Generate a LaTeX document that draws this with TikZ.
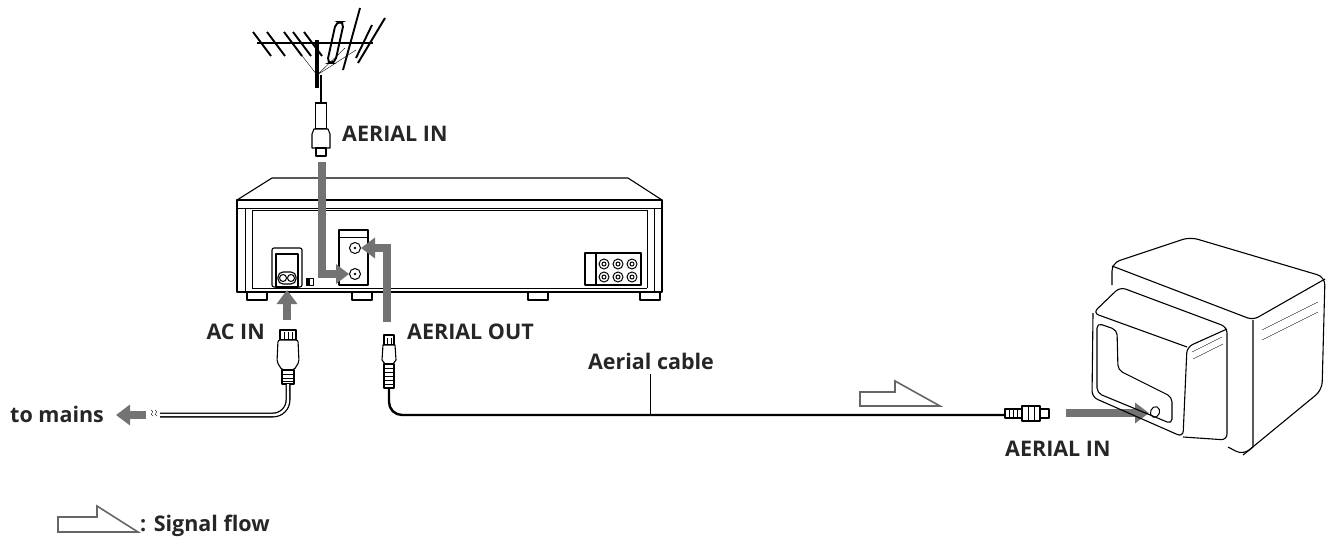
\documentclass[tikz,border=0pt]{standalone}
\usepackage{fontspec}
\setmainfont{Open Sans}
\usetikzlibrary{arrows.meta,shapes.geometric}
\begin{document}
\begin{tikzpicture}[x=1pt,y=-1pt,
  lbl/.style={font=\bfseries\fontsize{21.5}{23}\selectfont,text=black!85,inner sep=0pt},
  ln/.style={draw=black,line width=1.1pt,line join=round},
  el/.style={draw=black,line width=1.9pt},
  garrow/.style={draw=black!55,line width=7.5pt,-{Triangle[length=14pt,width=20pt]}},
  hollow/.style={draw=black!60,line width=1.6pt,fill=white}]
\useasboundingbox (0,0) rectangle (1337,543);
% ---------- antenna
\draw[el,line width=2.2pt] (257,43) -- (373,43);
\draw[ln,line width=3.5pt] (317,40) -- (317,88);
\foreach \x in {253,267,284,293,304}{\draw[el] (\x,32) -- (\x+18,56);}
\draw[el] (372,25) -- (356,58);
\draw[el] (360,8) -- (343,70);
\draw[el] (385,18) -- (358,63);
\draw[el,rounded corners=5pt] (327,63) -- (336,22) -- (344,22) -- (335,63) -- cycle;
\draw[ln,thin] (317,75) -- (296,48) (317,75) -- (345,48) (317,75) -- (356,50);
\draw[ln,line width=1.6pt] (321,75) -- (321,103);
% antenna plug
\node[draw,line width=1.1pt,minimum width=11pt,minimum height=26pt,inner sep=0] (ap1) at (321,116) {};
\draw[ln,fill=white] (314,129) -- (312,134) -- (312,148) -- (330,148) -- (330,134) -- (328,129) -- cycle;
\draw[ln] (316,148) rectangle (326,156);
\node[lbl,anchor=west] (ailbl) at (342,134) {AERIAL IN};
% ---------- VCR
\draw[ln] (237,200) -- (272,178) -- (628,178) -- (662,200);
\draw[ln] (237,200) rectangle (662,292);
\draw[ln,thin] (237,208) -- (662,208);
\draw[ln,thin] (245,208) -- (245,292) (252,210) -- (252,288) (654,208) -- (654,292) (647,210) -- (647,288);
\draw[ln,thin] (252,210) -- (647,210) (252,288) -- (647,288);
\foreach \x in {247,352,528,640}{\draw[ln] (\x,292) rectangle (\x+20,300);}
% aerial jack box
\draw[ln] (339,230) rectangle (368,285);
\draw[ln,thin] (339,237) -- (368,237);
\node[draw,circle,line width=1pt,minimum size=11pt,inner sep=0] (jout) at (355,248) {};
\node[draw,circle,line width=1pt,minimum size=11pt,inner sep=0] (jin) at (355,274) {};
\fill (355,248) circle (1.3pt) (355,274) circle (1.3pt);
% AC socket
\draw[ln,rounded corners=2pt] (272,248) rectangle (302,287);
\draw[ln] (276,254) rectangle (298,287);
\draw[ln,rounded corners=5pt] (278,272) rectangle (296,284);
\draw[line width=1pt] (283,278) circle (3.5pt) (291,278) circle (3.5pt);
\draw[ln,thin] (306,278) rectangle (313,285);
\fill (306,278) rectangle (309.5,285);
% AV block
\draw[ln] (585,253) rectangle (641,285);
\draw[ln] (596,253) -- (596,285);
\foreach \x in {604,618,632}{\foreach \y in {264,277}{\draw[line width=1pt] (\x,\y) circle (5pt) (\x,\y) circle (2pt);}}
% grey arrows
\coordinate (a1) at (322,162);
\draw[garrow,-{Triangle[length=13pt,width=19pt]}] (a1) |- (jin.west);
\coordinate (a2) at (387,322);
\draw[garrow] (a2) |- (jout.east);
\coordinate (a3) at (287,320);
\draw[garrow] (a3) -- (287,290);
% ---------- AC plug and mains cable
\node[lbl,anchor=east] (aclbl) at (265,332) {AC IN};
\draw[ln] (280,330) rectangle (296,340);
\draw[ln,thin] (284,332) -- (284,340) (288,332) -- (288,340) (292,332) -- (292,340);
\draw[ln,fill=white,rounded corners=2pt] (278,340) -- (298,340) -- (299,362) -- (294,370) -- (282,370) -- (277,362) -- cycle;
\draw[ln] (282,370) rectangle (294,384);
\foreach \y in {374,378,381}{\draw[ln,thin] (282,\y) -- (294,\y);}
\draw[line width=5pt,draw=black] (288,384) -- (288,400) arc (0:90:15) -- (160,415);
\draw[line width=2.4pt,draw=white] (288,384) -- (288,400) arc (0:90:15) -- (160,415);
\draw[thin] (151,410) .. controls (156,412) and (148,414) .. (153,416);
\draw[thin] (155,410) .. controls (160,412) and (152,414) .. (157,416);
\coordinate (m1) at (146,415);
\draw[garrow] (m1) -- (116,415);
\node[lbl,anchor=west] (mains) at (10,414) {to mains};
% ---------- aerial cable
\node[lbl,anchor=west] (aolbl) at (407,332) {AERIAL OUT};
\draw[ln] (384,335) rectangle (394,345);
\draw[ln,thin] (387,338) -- (387,345) (391,338) -- (391,345);
\draw[ln,fill=white] (383,345) -- (395,345) -- (396,360) -- (393,364) -- (385,364) -- (382,360) -- cycle;
\draw[ln] (384,364) rectangle (394,388);
\foreach \y in {368,372,376,380,384}{\draw[ln,thin] (384,\y) -- (394,\y);}
\coordinate (c0) at (389,388);
\coordinate (c1) at (1005,415);
\draw[line width=2.4pt] (c0) -- (389,402) arc (180:90:13) -- (c1);
\node[lbl] (aclabel) at (651,361) {Aerial cable};
\draw[line width=1pt] (650,374) -- (650,415);
% signal flow arrow
\draw[hollow] (860,392) -- (895,392) -- (895,381) -- (940,406) -- (860,406) -- cycle;
% TV plug
\draw[ln,fill=white] (1005,409) rectangle (1022,418);
\foreach \x in {1009,1013,1017}{\draw[ln,thin] (\x,409) -- (\x,418);}
\draw[ln,fill=white] (1022,406) rectangle (1040,421);
\draw[ln,thin] (1028,406) -- (1028,421) (1034,406) -- (1034,421);
\draw[ln] (1040,409) rectangle (1049,418);
\coordinate (t1) at (1066,413);
\node[draw,ellipse,line width=1pt,minimum width=9pt,minimum height=11pt,inner sep=0,rotate=-20] (tvjack) at (1155,412) {};
\coordinate (t2) at (1149,413);
\draw[garrow] (t1) -- (t2);
\node[lbl,anchor=west] (tvlbl) at (1005,449) {AERIAL IN};
% ---------- TV
\draw[ln,rounded corners=8pt] (1112,285) -- (1112,263) -- (1190,237) -- (1325,277) -- (1322,390) -- (1243,455) -- (1228,447);
\draw[ln,rounded corners=6pt] (1112,266) -- (1253,320) -- (1325,279);
\draw[ln] (1253,320) -- (1253,447) -- (1243,455);
\draw[ln,rounded corners=6pt] (1187,347) -- (1093,313) -- (1120,287) -- (1227,327) -- (1227,440) -- (1183,437);
\draw[ln,rounded corners=6pt] (1093,313) -- (1092,397) -- (1183,437) -- (1187,347) -- (1227,329);
\draw[ln,rounded corners=5pt] (1097,323) -- (1117,330) -- (1118,370) -- (1172,397) -- (1172,424) -- (1097,393) -- cycle;
\draw[ln,thin] (1192,352) -- (1222,337) (1193,359) -- (1223,344);
\draw[ln,thin] (1262,330) -- (1318,302) (1262,340) -- (1318,312);
% ---------- legend
\draw[hollow] (58,517) -- (97,517) -- (97,506) -- (138,532) -- (58,532) -- cycle;
\node[lbl,anchor=west] (leg) at (140,526) {: Signal flow};
\end{tikzpicture}
\end{document}
